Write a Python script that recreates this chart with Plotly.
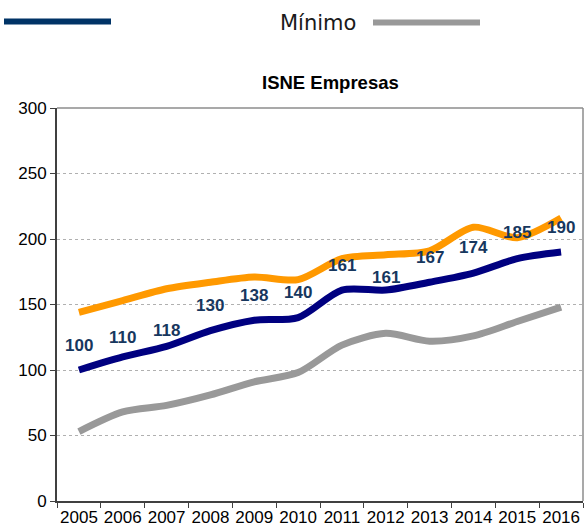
import plotly.graph_objects as go

years = ["2005", "2006", "2007", "2008", "2009", "2010", "2011", "2012", "2013", "2014", "2015", "2016"]
isne = [100, 110, 118, 130, 138, 140, 161, 161, 167, 174, 185, 190]
maximo = [144, 153, 162, 167, 171, 169, 185, 188, 191, 209, 201, 216]
minimo = [53, 68, 73, 81, 91, 98, 119, 128, 122, 126, 137, 148]
y_ticks = [0, 50, 100, 150, 200, 250, 300]

W, H = 584, 530
L, R, T, B = 57, 583, 108, 501


def px(x):
    return (x - L) / (R - L)


def py(y):
    return (B - y) / (B - T)


fig = go.Figure()
fig.add_trace(go.Scatter(x=years, y=minimo, mode="lines", name="Mínimo",
                         line=dict(color="#999999", width=7, shape="spline", smoothing=0.8)))
fig.add_trace(go.Scatter(x=years, y=maximo, mode="lines", name="Máximo",
                         line=dict(color="#FF9900", width=7, shape="spline", smoothing=0.8)))
fig.add_trace(go.Scatter(x=years, y=isne, mode="lines", name="ISNE",
                         line=dict(color="#000080", width=7, shape="spline", smoothing=0.8)))

label_shift = [25, 19, 16, 25, 25, 25, 25, 13, 25, 26, 26, 25]
annotations = []
for i, (v, s) in enumerate(zip(isne, label_shift)):
    annotations.append(dict(x=i, y=v, xref="x", yref="y", text="<b>%d</b>" % v, showarrow=False,
                            yshift=s, font=dict(family="Liberation Sans, Arial", size=17,
                                                color="#17375E")))

# legend items (drawn)
annotations.append(dict(x=px(318), y=py(23), xref="paper", yref="paper", text="Mínimo",
                        showarrow=False, xanchor="center", yanchor="middle",
                        font=dict(family="DejaVu Sans, Verdana", size=21, color="#1a1a1a")))
annotations.append(dict(x=px(330), y=py(83), xref="paper", yref="paper", text="<b>ISNE Empresas</b>",
                        showarrow=False, xanchor="center", yanchor="middle",
                        font=dict(family="Liberation Sans, Arial", size=18.5, color="#000000")))

shapes = [
    dict(type="line", xref="paper", yref="paper", x0=px(4), x1=px(111), y0=py(21.5), y1=py(21.5),
         line=dict(color="#003366", width=6)),
    dict(type="line", xref="paper", yref="paper", x0=px(373), x1=px(480), y0=py(22.5), y1=py(22.5),
         line=dict(color="#999999", width=6)),
    dict(type="line", xref="paper", yref="paper", x0=0, x1=1, y0=1, y1=1,
         line=dict(color="#8c8c8c", width=1.5)),
    dict(type="line", xref="paper", yref="paper", x0=1, x1=1, y0=0, y1=1,
         line=dict(color="#8c8c8c", width=1.5)),
]

fig.update_layout(
    width=W, height=H,
    margin=dict(l=L, r=W - R, t=T, b=H - B),
    paper_bgcolor="white", plot_bgcolor="white",
    showlegend=False,
    annotations=annotations,
    shapes=shapes,
    font=dict(family="Liberation Sans, Arial", size=17, color="#000000"),
)
fig.update_xaxes(type="category", tickson="boundaries", ticks="outside", ticklen=5,
                 tickcolor="#404040", showline=True, linecolor="#404040", linewidth=2,
                 showgrid=False, tickfont=dict(size=17), tickangle=0, automargin=False,
                 range=[-0.5, 11.5])
fig.update_yaxes(range=[0, 300], tickvals=y_ticks, ticks="outside", ticklen=5,
                 tickcolor="#404040", showline=True, linecolor="#404040", linewidth=2,
                 showgrid=True, gridcolor="#b0b0b0", griddash="dot", gridwidth=1,
                 zeroline=False, tickfont=dict(size=17), automargin=False)

fig.write_html("out.html", config={"displayModeBar": False},
               post_script="document.body.style.margin='0';document.body.style.padding='0';"
                           "document.body.style.overflow='hidden';")
